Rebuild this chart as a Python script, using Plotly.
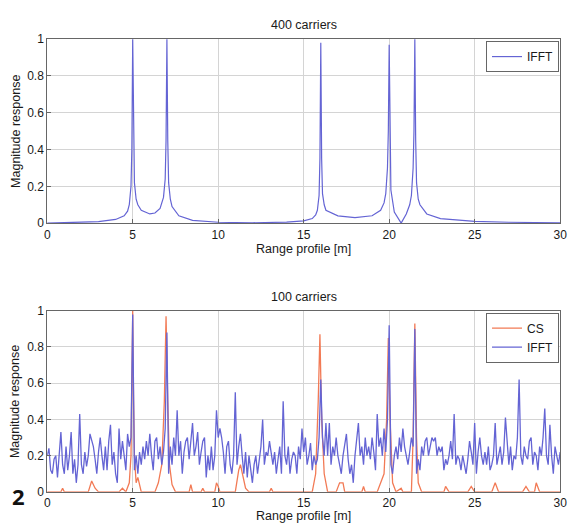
import numpy as np
import plotly.graph_objects as go

# ---------------- data ----------------
# Top panel: IFFT, 400 carriers
top_x = [0, 2, 3, 4, 4.5, 4.7, 4.8, 4.9, 4.95, 5.0, 5.05, 5.1, 5.2, 5.3, 5.5, 6.0, 6.3, 6.6,
         6.8, 6.9, 6.95, 7.0, 7.05, 7.1, 7.2, 7.3, 7.7, 8.5, 10, 12, 14, 15, 15.5, 15.7, 15.8,
         15.9, 15.95, 16.0, 16.05, 16.1, 16.2, 16.3, 17, 18, 19, 19.5, 19.7, 19.8, 19.9,
         19.95, 20.0, 20.05, 20.1, 20.3, 20.7, 21.0, 21.2, 21.3, 21.4, 21.45, 21.5, 21.55,
         21.6, 21.7, 21.8, 22.2, 23, 25, 27, 30]
top_y = [0.0, 0.003, 0.008, 0.02, 0.04, 0.065, 0.1, 0.2, 0.4, 1.0, 0.4, 0.22, 0.13, 0.1,
         0.07, 0.05, 0.055, 0.08, 0.14, 0.24, 0.45, 1.0, 0.45, 0.22, 0.13, 0.09, 0.04, 0.015,
         0.005, 0.002, 0.006, 0.012, 0.025, 0.045, 0.07, 0.15, 0.35, 0.98, 0.35, 0.16, 0.1,
         0.07, 0.04, 0.03, 0.04, 0.07, 0.11, 0.16, 0.3, 0.5, 0.97, 0.4, 0.18, 0.06, 0.0,
         0.05, 0.1, 0.15, 0.3, 0.5, 1.0, 0.45, 0.22, 0.13, 0.1, 0.05, 0.025, 0.01, 0.005,
         0.002]

# Bottom panel: IFFT, 100 carriers, sampled every 0.1 m from 0 to 30
bot_ifft = [
    0.20, 0.24, 0.12, 0.10, 0.18, 0.20, 0.08, 0.22, 0.33, 0.15,
    0.10, 0.25, 0.12, 0.20, 0.33, 0.10, 0.18, 0.05, 0.15, 0.43,
    0.15, 0.10, 0.22, 0.14, 0.20, 0.32, 0.28, 0.25, 0.18, 0.10,
    0.22, 0.30, 0.20, 0.12, 0.25, 0.12, 0.28, 0.37, 0.15, 0.22,
    0.10, 0.05, 0.35, 0.18, 0.28, 0.20, 0.12, 0.32, 0.25, 0.30,
    0.98, 0.12, 0.20, 0.10, 0.22, 0.15, 0.25, 0.18, 0.28, 0.20,
    0.32, 0.20, 0.12, 0.28, 0.30, 0.18, 0.25, 0.15, 0.22, 0.35,
    0.88, 0.10, 0.25, 0.15, 0.30, 0.20, 0.45, 0.20, 0.28, 0.10,
    0.22, 0.28, 0.30, 0.18, 0.30, 0.38, 0.20, 0.25, 0.33, 0.15,
    0.22, 0.28, 0.30, 0.08, 0.20, 0.12, 0.25, 0.12, 0.20, 0.45,
    0.30, 0.35, 0.30, 0.22, 0.10, 0.25, 0.28, 0.15, 0.10, 0.20,
    0.55, 0.15, 0.25, 0.32, 0.20, 0.10, 0.22, 0.08, 0.20, 0.12,
    0.05, 0.15, 0.20, 0.10, 0.18, 0.25, 0.40, 0.15, 0.22, 0.20,
    0.28, 0.20, 0.15, 0.22, 0.10, 0.18, 0.25, 0.10, 0.50, 0.20,
    0.15, 0.25, 0.10, 0.18, 0.22, 0.20, 0.10, 0.25, 0.18, 0.35,
    0.22, 0.30, 0.15, 0.20, 0.27, 0.12, 0.20, 0.15, 0.18, 0.30,
    0.62, 0.30, 0.20, 0.38, 0.20, 0.38, 0.15, 0.25, 0.20, 0.30,
    0.20, 0.15, 0.10, 0.20, 0.25, 0.32, 0.18, 0.10, 0.15, 0.05,
    0.20, 0.30, 0.38, 0.20, 0.25, 0.15, 0.30, 0.20, 0.25, 0.18,
    0.30, 0.22, 0.12, 0.43, 0.25, 0.30, 0.20, 0.35, 0.22, 0.40,
    0.92, 0.15, 0.10, 0.20, 0.25, 0.18, 0.30, 0.22, 0.35, 0.25,
    0.20, 0.15, 0.22, 0.30, 0.25, 0.90, 0.10, 0.18, 0.12, 0.25,
    0.20, 0.28, 0.30, 0.20, 0.25, 0.30, 0.28, 0.30, 0.20, 0.25,
    0.22, 0.25, 0.12, 0.18, 0.15, 0.20, 0.28, 0.18, 0.43, 0.15,
    0.20, 0.18, 0.12, 0.20, 0.15, 0.10, 0.18, 0.28, 0.22, 0.15,
    0.38, 0.10, 0.22, 0.30, 0.20, 0.15, 0.22, 0.15, 0.25, 0.12,
    0.15, 0.20, 0.38, 0.15, 0.20, 0.25, 0.15, 0.22, 0.41, 0.30,
    0.15, 0.25, 0.12, 0.20, 0.18, 0.30, 0.62, 0.20, 0.15, 0.25,
    0.20, 0.18, 0.28, 0.30, 0.15, 0.22, 0.20, 0.12, 0.25, 0.20,
    0.30, 0.46, 0.20, 0.15, 0.37, 0.20, 0.10, 0.25, 0.20, 0.15,
    0.22,
]
bot_ifft_x = np.round(np.arange(len(bot_ifft)) * 0.1, 1)

# Bottom panel: CS reconstruction
cs_x = [0, 0.8, 0.9, 1.0, 2.4, 2.6, 2.8, 3.0, 4.2, 4.4, 4.6, 4.8, 4.9, 4.95, 5.0, 5.05, 5.1,
        5.2, 5.3, 5.5, 6.3, 6.5, 6.7, 6.85, 6.95, 7.05, 7.15, 7.3, 7.5, 8.3, 8.4, 8.5, 9.0,
        9.1, 9.2, 9.8, 9.9, 10.0, 10.1, 11.0, 11.2, 11.3, 11.4, 11.6, 11.8, 13.0, 13.1, 13.2,
        15.5, 15.7, 15.85, 15.95, 16.05, 16.2, 16.4, 16.9, 17.1, 17.3, 17.4, 18.4, 18.5, 18.6,
        19.3, 19.5, 19.7, 19.85, 19.95, 20.05, 20.2, 20.4, 20.7, 20.8, 21.3, 21.4, 21.5, 21.6,
        21.7, 21.9, 23.2, 23.3, 23.5, 24.6, 24.8, 25.0, 26.0, 26.2, 26.4, 27.8, 28.0, 28.2,
        28.5, 28.6, 28.8, 30]
cs_y = [0, 0, 0.02, 0, 0, 0.06, 0.02, 0, 0, 0.02, 0, 0.05, 0.2, 0.5, 1.0, 0.5, 0.2,
        0.05, 0.08, 0, 0, 0.05, 0.15, 0.5, 0.97, 0.5, 0.15, 0.04, 0, 0, 0.04, 0, 0,
        0.02, 0, 0, 0.05, 0.03, 0, 0, 0.12, 0.15, 0.1, 0.02, 0, 0, 0.02, 0,
        0, 0.1, 0.5, 0.87, 0.4, 0.1, 0, 0, 0.05, 0.05, 0, 0, 0.03, 0,
        0, 0.05, 0.1, 0.4, 0.85, 0.4, 0.05, 0, 0.02, 0, 0, 0.3, 0.93, 0.3,
        0.05, 0, 0, 0.03, 0, 0, 0.03, 0, 0, 0.05, 0, 0, 0.03, 0,
        0, 0.05, 0, 0]

x_ticks = [0, 5, 10, 15, 20, 25, 30]
y_ticks = [0, 0.2, 0.4, 0.6, 0.8, 1]
y_tick_text = ["0", "0.2", "0.4", "0.6", "0.8", "1"]

# ---------------- figure ----------------
W, H = 576, 531
BLUE = "#6464d4"
RED = "#f27a55"
FONT = "Liberation Sans, Arial, sans-serif"
TXT = "#1a1a1a"

fig = go.Figure()
fig.add_trace(go.Scatter(x=top_x, y=top_y, mode="lines", name="IFFT",
                         line=dict(color=BLUE, width=1.2), xaxis="x", yaxis="y",
                         legend="legend"))
fig.add_trace(go.Scatter(x=cs_x, y=cs_y, mode="lines", name="CS",
                         line=dict(color=RED, width=1.3), xaxis="x2", yaxis="y2",
                         legend="legend2"))
fig.add_trace(go.Scatter(x=bot_ifft_x, y=bot_ifft, mode="lines", name="IFFT",
                         line=dict(color=BLUE, width=1.3), xaxis="x2", yaxis="y2",
                         legend="legend2"))

def px_x(p):
    return p / W

def px_y(p):
    return 1 - p / H

ax_common = dict(range=[0, 30], tickvals=x_ticks, showgrid=True, gridcolor="#d4d4d4",
                 gridwidth=1, showline=True, linecolor="#666", linewidth=1, mirror=True,
                 ticks="inside", ticklen=4, tickcolor="#666", zeroline=False,
                 tickfont=dict(family=FONT, size=12, color=TXT))
ay_common = dict(range=[0, 1], tickvals=y_ticks, ticktext=y_tick_text, showgrid=True,
                 gridcolor="#d4d4d4", gridwidth=1, showline=True, linecolor="#666",
                 linewidth=1, mirror=True, ticks="inside", ticklen=4, tickcolor="#666",
                 zeroline=False, tickfont=dict(family=FONT, size=12, color=TXT))

x0, x1 = px_x(45), px_x(567)
leg_common = dict(xanchor="right", yanchor="top", bgcolor="white", bordercolor="#666",
                  borderwidth=1, font=dict(family=FONT, size=12, color=TXT), itemwidth=30,
                  tracegroupgap=0)
fig.update_layout(
    width=W, height=H, margin=dict(l=0, r=0, t=0, b=0),
    paper_bgcolor="white", plot_bgcolor="white",
    xaxis=dict(domain=[x0, x1], anchor="y", **ax_common),
    yaxis=dict(domain=[px_y(222), px_y(33)], anchor="x", **ay_common),
    xaxis2=dict(domain=[x0, x1], anchor="y2", **ax_common),
    yaxis2=dict(domain=[px_y(498), px_y(312)], anchor="x2", **ay_common),
    legend=dict(x=x1 - 0.002, y=px_y(35), **leg_common),
    legend2=dict(x=x1 - 0.002, y=px_y(314), **leg_common),
    showlegend=True,
)

ann_font = dict(family=FONT, size=12.5, color=TXT)
annotations = [
    dict(text="400 carriers", x=(x0 + x1) / 2, y=px_y(19)),
    dict(text="100 carriers", x=(x0 + x1) / 2, y=px_y(298)),
    dict(text="Range profile [m]", x=(x0 + x1) / 2, y=px_y(249)),
    dict(text="Range profile [m]", x=(x0 + x1) / 2, y=px_y(523)),
    dict(text="Magnitude response", x=px_x(13), y=px_y((33 + 222) / 2), textangle=-90),
    dict(text="Magnitude response", x=px_x(13), y=px_y((312 + 498) / 2), textangle=-90),
]
for a in annotations:
    fig.add_annotation(xref="paper", yref="paper", showarrow=False,
                       xanchor="center", yanchor="middle", font=ann_font, **a)
fig.add_annotation(xref="paper", yref="paper", showarrow=False, text="<b>2</b>",
                   x=px_x(16), y=px_y(502), xanchor="center", yanchor="middle",
                   font=dict(family="Open Sans, sans-serif", size=22, color="#111"))

fig.write_html("out.html")
